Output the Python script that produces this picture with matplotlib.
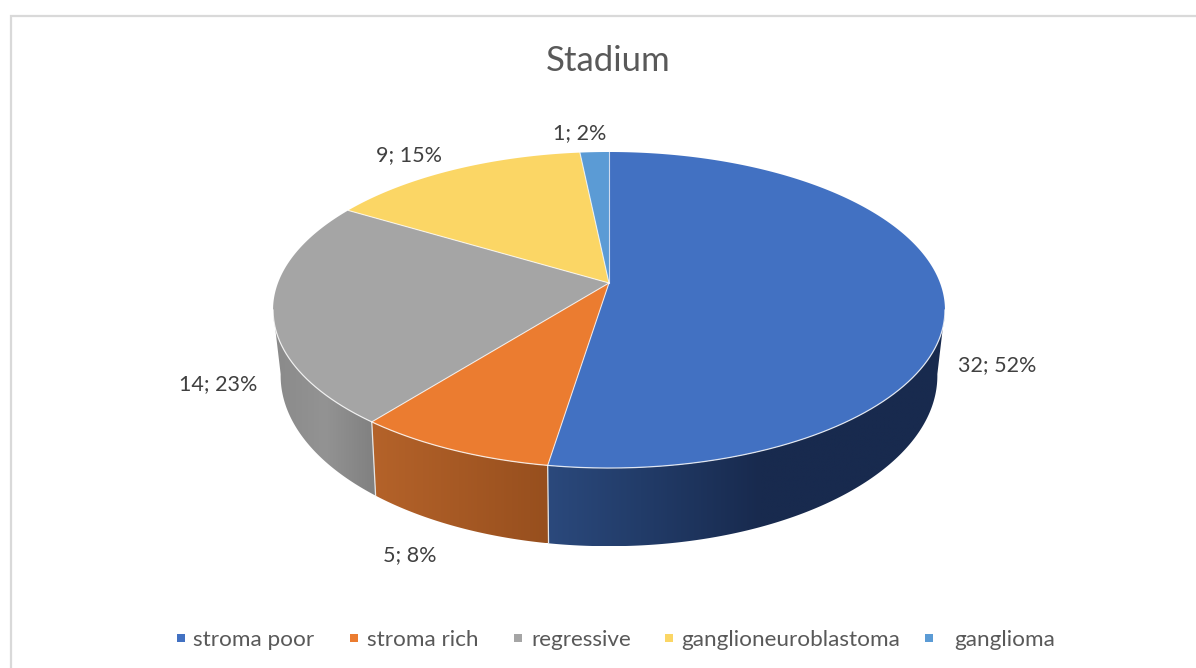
import numpy as np
import matplotlib
matplotlib.use('Agg')
import matplotlib.pyplot as plt
from matplotlib.colors import to_rgb
from matplotlib.patches import Polygon, Rectangle

title = 'Stadium'
categories = ['stroma poor', 'stroma rich', 'regressive', 'ganglioneuroblastoma', 'ganglioma']
counts = [32, 5, 14, 9, 1]
colors = ['#4271C2', '#EB7C30', '#A5A5A5', '#FBD665', '#5B9BD5']

# pixel layout of the labels and the legend row
label_pos = [(997, 365), (410, 555), (218, 384), (409, 155), (580, 133)]
legend_marker_x = [180.5, 354, 518, 668.5, 928.5]
legend_text_x = [193, 367, 531, 681, 954]

# perspective discs: centre x, centre y, half width, half height, tilt
top_disc = (609, 283, 331, 153.4, 0.171)
base_disc = (609, 345, 323, 165, 0.18)

# side wall shading, as (x pixel, colour) stops per slice
wall_shades = {
    0: [(547, '#2b497c'), (640, '#223c69'), (760, '#182a4e'), (945, '#182a4e')],
    1: [(369, '#b5632a'), (548, '#974f1e')],
    2: [(273, '#8a8a8a'), (325, '#939393'), (375, '#808080')],
}


def project(theta, disc):
    # theta in degrees, clockwise from twelve o'clock
    cx, cy, a, b, k = disc
    t = np.radians(theta)
    u, v = np.sin(t), np.cos(t)
    den = 1 + k * v
    return cx + a * u / den, cy - b * v / den


def rim(t1, t2, disc):
    n = max(int(abs(t2 - t1) * 2), 2)
    x, y = project(np.linspace(t1, t2, n), disc)
    return np.column_stack([x, y])


fig = plt.figure(figsize=(11.96, 6.68), dpi=100)
ax = fig.add_axes([0, 0, 1, 1])
ax.axis('off')

text_font = 'Lato'
total = sum(counts)
edges = np.concatenate([[0], np.cumsum(counts) / total * 360])

# chart frame, only the top and left sides fall inside the canvas
ax.plot([10.5, 10.5, 1196], [668, 15.5, 15.5], color='#d9d9d9', lw=1.6, zorder=1, solid_joinstyle='miter')

# side walls, only the front part of the disc shows
wall_from = 90 + np.degrees(np.arcsin(top_disc[4]))
wall_to = 360 - wall_from
for i in wall_shades:
    t1 = max(edges[i], wall_from)
    t2 = min(edges[i + 1], wall_to)
    outline = np.vstack([rim(t1, t2, top_disc), rim(t2, t1, base_disc)])
    clip = Polygon(outline, closed=True, transform=ax.transData, fc='none', ec='none')
    ax.add_patch(clip)
    stops = wall_shades[i]
    xs = np.linspace(outline[:, 0].min(), outline[:, 0].max(), 300)
    stop_x = [s[0] for s in stops]
    stop_c = np.array([to_rgb(s[1]) for s in stops])
    grad = np.stack([np.interp(xs, stop_x, stop_c[:, c]) for c in range(3)], axis=-1)[None, :, :]
    im = ax.imshow(grad, extent=(xs[0], xs[-1], outline[:, 1].max(), outline[:, 1].min()),
                   aspect='auto', zorder=2, interpolation='bilinear')
    im.set_clip_path(clip)

# separators running down the wall
for i in [1, 2]:
    x1, y1 = project(edges[i], top_disc)
    x2, y2 = project(edges[i], base_disc)
    ax.plot([x1, x2], [y1, y2], color='#e6e6e6', lw=0.9, zorder=3)

# top face of the pie
apex = (top_disc[0], top_disc[1])
for i, c in enumerate(colors):
    pts = np.vstack([[apex], rim(edges[i], edges[i + 1], top_disc)])
    ax.add_patch(Polygon(pts, closed=True, fc=c, ec='none', zorder=4))
for i in range(len(counts)):
    x, y = project(edges[i], top_disc)
    ax.plot([apex[0], x], [apex[1], y], color='white', lw=0.8, alpha=0.75, zorder=5)
front = rim(wall_from, wall_to, top_disc)
ax.plot(front[:, 0], front[:, 1], color='white', lw=0.9, alpha=0.8, zorder=5)

# value labels
for v, (x, y) in zip(counts, label_pos):
    pct = round(100 * v / total)
    ax.text(x, y, f'{v}; {pct}%', ha='center', va='center', fontsize=15.5,
            family=text_font, color='#404040', zorder=6)

ax.text(608.5, 61, title, ha='center', va='center', fontsize=25, family=text_font, color='#595959')

# legend row
for name, c, mx, tx in zip(categories, colors, legend_marker_x, legend_text_x):
    ax.add_patch(Rectangle((mx - 4, 634), 8, 8, fc=c, ec='none', zorder=6))
    ax.text(tx, 646, name, ha='left', va='baseline', fontsize=16.2, family=text_font, color='#595959')

ax.set_xlim(0, 1196)
ax.set_ylim(668, 0)
fig.savefig('out.png', dpi=100)
